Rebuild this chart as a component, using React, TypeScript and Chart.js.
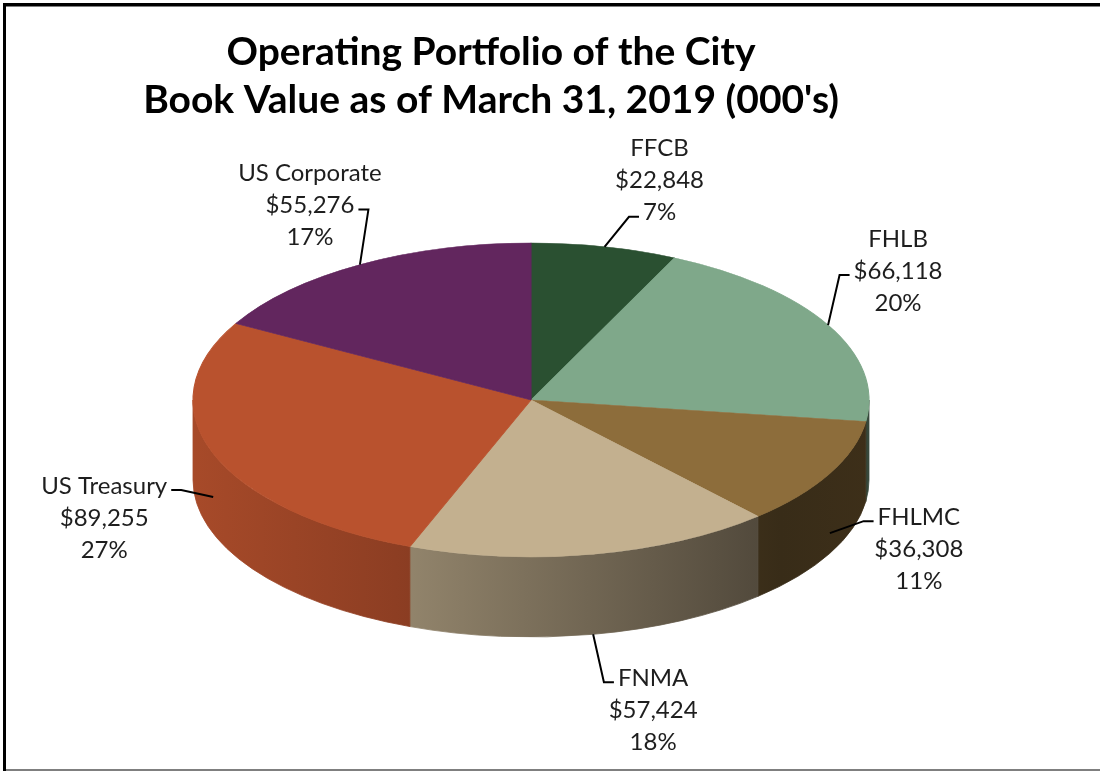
import React, { useEffect, useRef } from "react";
import { Chart, registerables } from "chart.js";

Chart.register(...registerables);

// ---- data ----
const categories = ["FFCB", "FHLB", "FHLMC", "FNMA", "US Treasury", "US Corporate"];
const bookValues = [22848, 66118, 36308, 57424, 89255, 55276];
const sliceColors = ["#2a5031", "#7fa88a", "#8d6d3b", "#c3b08f", "#b9522e", "#62265e"];
const titleLines = ["Operating Portfolio of the City", "Book Value as of March 31, 2019 (000's)"];

// ---- layout / style ----
const PIE = { cx: 531, cy: 400, rx: 338, ry: 157, depth: 80 };
const LABEL_FONT = "24px Lato";
const LABEL_LINE = 32;
// offset of label block centre (middle line) from the rim anchor, the line the leader attaches to, side
const labelLayout = [
  { dx: 55, dy: -66, line: 2, side: "left" },
  { dx: 70, dy: -54, line: 1, side: "left" },
  { dx: 89, dy: 16, line: 0, side: "left" },
  { dx: 60, dy: 76, line: 0, side: "left" },
  { dx: -109, dy: 21, line: 0, side: "right" },
  { dx: -50, dy: -59, line: 1, side: "right" },
];

function shade(hex: string, f: number) {
  const n = parseInt(hex.slice(1), 16);
  const r = Math.min(255, Math.round(((n >> 16) & 255) * f));
  const g = Math.min(255, Math.round(((n >> 8) & 255) * f));
  const b = Math.min(255, Math.round((n & 255) * f));
  return `rgb(${r},${g},${b})`;
}

const fmtMoney = (v: number) => "$" + v.toLocaleString("en-US");

const pie3dPlugin = {
  id: "pie3d",
  beforeDraw(chart: any) {
    const ctx = chart.ctx;
    ctx.save();
    ctx.fillStyle = "#ffffff";
    ctx.fillRect(0, 0, chart.width, chart.height);
    ctx.fillStyle = "#000000";
    ctx.fillRect(3, 3, chart.width - 3, 3);
    ctx.fillRect(3, 3, 3, chart.height - 3);
    ctx.fillStyle = "#7f7f7f";
    ctx.fillRect(6, 6, chart.width - 6, 1);
    ctx.fillRect(6, chart.height - 2, chart.width - 6, 2);
    ctx.restore();
  },
  beforeDatasetsDraw(chart: any) {
    const meta = chart.getDatasetMeta(0);
    const arcs = meta.data;
    if (!arcs.length) return;
    const ctx = chart.ctx;
    const { cx, cy, rx, ry, depth } = PIE;
    ctx.save();
    arcs.forEach((arc: any, i: number) => {
      const { startAngle, endAngle } = arc.getProps(["startAngle", "endAngle"], true);
      const a1 = Math.max(startAngle, 0);
      const a2 = Math.min(endAngle, Math.PI);
      if (a2 <= a1) return;
      const g = ctx.createLinearGradient(cx - rx, 0, cx + rx, 0);
      const base = sliceColors[i];
      g.addColorStop(0, shade(base, 0.9));
      g.addColorStop(0.3, shade(base, 0.76));
      g.addColorStop(0.87, shade(base, 0.4));
      g.addColorStop(1, shade(base, 0.43));
      ctx.beginPath();
      ctx.ellipse(cx, cy, rx, ry, 0, a1, a2);
      ctx.ellipse(cx, cy + depth, rx, ry, 0, a2, a1, true);
      ctx.closePath();
      ctx.fillStyle = g;
      ctx.fill();
      ctx.strokeStyle = g;
      ctx.lineWidth = 0.8;
      ctx.stroke();
    });
    ctx.restore();
    const a0 = arcs[0];
    const r = a0.outerRadius;
    ctx.save();
    ctx.translate(cx, cy);
    ctx.scale(rx / r, ry / r);
    ctx.translate(-a0.x, -a0.y);
  },
  afterDatasetsDraw(chart: any) {
    chart.ctx.restore();
  },
  afterDraw(chart: any) {
    const meta = chart.getDatasetMeta(0);
    const arcs = meta.data;
    const ctx = chart.ctx;
    const { cx, cy, rx, ry, depth } = PIE;
    const total = bookValues.reduce((a, b) => a + b, 0);
    ctx.save();
    ctx.font = LABEL_FONT;
    ctx.textAlign = "center";
    ctx.textBaseline = "middle";
    arcs.forEach((arc: any, i: number) => {
      const { startAngle, endAngle } = arc.getProps(["startAngle", "endAngle"], true);
      const mid = (startAngle + endAngle) / 2;
      const s = Math.sin(mid);
      const ax = cx + rx * Math.cos(mid);
      let ay = cy + ry * s;
      if (s > 0) ay += depth * Math.min(1, s * 1.6);
      const lay = labelLayout[i];
      const tx = ax + lay.dx;
      const ty = ay + lay.dy;
      const lines = [
        categories[i],
        fmtMoney(bookValues[i]),
        Math.round((bookValues[i] / total) * 100) + "%",
      ];
      ctx.fillStyle = "#1e1e1e";
      lines.forEach((t, k) => ctx.fillText(t, tx, ty + (k - 1) * LABEL_LINE));
      const w = ctx.measureText(lines[lay.line]).width;
      const ly = ty + (lay.line - 1) * LABEL_LINE + 4;
      const lx = lay.side === "left" ? tx - w / 2 - 4 : tx + w / 2 + 4;
      const ex = lay.side === "left" ? lx - 10 : lx + 10;
      ctx.strokeStyle = "#000000";
      ctx.lineWidth = 2;
      ctx.beginPath();
      ctx.moveTo(lx, ly);
      ctx.lineTo(ex, ly);
      ctx.lineTo(ax, ay);
      ctx.stroke();
    });
    ctx.restore();
  },
};

export default function App() {
  const ref = useRef<HTMLCanvasElement | null>(null);
  useEffect(() => {
    document.body.style.margin = "0";
    const canvas = ref.current;
    if (!canvas) return;
    const chart = new Chart(canvas, {
      type: "pie",
      data: {
        labels: categories,
        datasets: [
          {
            data: bookValues,
            backgroundColor: sliceColors,
            borderColor: sliceColors,
            borderWidth: 1,
            clip: false as any,
          },
        ],
      },
      options: {
        responsive: false,
        animation: false,
        layout: { padding: { left: 0, right: 118, top: 8, bottom: 10 } },
        plugins: {
          legend: { display: false },
          tooltip: { enabled: false },
          title: {
            display: true,
            text: titleLines,
            color: "#000000",
            font: { family: "Lato", size: 39, weight: "bold", lineHeight: 1.23 },
            padding: { top: 20, bottom: 10 },
          },
        },
      },
      plugins: [pie3dPlugin],
    });
    return () => chart.destroy();
  }, []);
  return (
    <div style={{ width: 1100, height: 771, position: "relative" }}>
      <canvas ref={ref} width={1100} height={771} style={{ display: "block" }} />
    </div>
  );
}
